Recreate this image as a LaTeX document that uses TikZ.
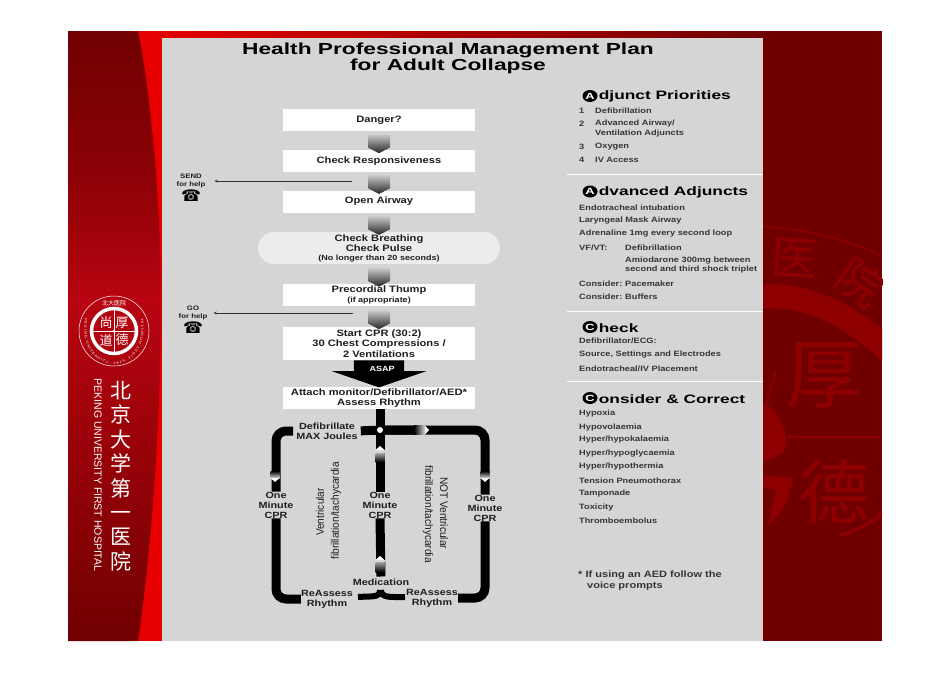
\documentclass[tikz,border=0pt]{standalone}
\usepackage{fontspec}
\usepackage{tikz}
\usetikzlibrary{arrows,positioning,calc,shapes.geometric,shapes.symbols,shapes.arrows,decorations.text}
\setmainfont[FakeStretch=1.2]{Liberation Sans}
\newfontfamily\titlefont[FakeStretch=1.42]{Liberation Sans}
\newfontfamily\plainfont[FakeStretch=0.92]{Liberation Sans}
\newfontfamily\namefont{Liberation Sans}
\newfontfamily\cjkfont{Noto Sans CJK SC}
\newfontfamily\symbfont{DejaVu Sans}
\definecolor{bandred}{HTML}{700000}
\definecolor{midred}{HTML}{B80410}
\definecolor{stripred}{HTML}{E60000}
\definecolor{markred}{HTML}{8E0000}
\definecolor{panelgray}{HTML}{D5D5D5}
\definecolor{inktext}{HTML}{1E1E1E}

\begin{document}
\begin{tikzpicture}[
    x=1pt, y=-1pt,
    box/.style={fill=white, minimum width=192pt, inner sep=0pt, align=center, text=inktext, font=\bfseries\fontsize{9.3}{10.5}\selectfont},
    pill/.style={fill=gray!15!white, rounded corners=16pt, minimum width=242pt, minimum height=32pt, inner sep=0pt, align=center, text=inktext, font=\bfseries\fontsize{9.3}{10.5}\selectfont},
    chev/.style={signal, signal to=south, signal pointer angle=125, minimum width=22pt, minimum height=14pt, inner sep=0pt, top color=gray!35, bottom color=black!85},
    asap/.style={single arrow, shape border rotate=270, text width=50pt, single arrow head extend=22pt, single arrow tip angle=142, single arrow head indent=0pt, minimum height=27pt, inner sep=0pt, fill=black},
    help/.style={align=center, inner sep=0pt, text=inktext, font=\bfseries\fontsize{6.5}{8.5}\selectfont},
    phone/.style={inner sep=0pt, font=\symbfont\fontsize{16}{16}\selectfont},
    pointer/.style={->, >=stealth, thin, black!80, shorten >=9pt},
    heavy/.style={line width=9pt, black, rounded corners=10pt},
    loopnote/.style={align=center, inner sep=0pt, text=inktext, font=\bfseries\fontsize{9}{10}\selectfont},
    vert/.style={inner sep=0pt, text=inktext, font=\plainfont\fontsize{11}{12}\selectfont},
    heading/.style={inner sep=0pt, anchor=west, yshift=-.7pt, text=black, font=\titlefont\bfseries\fontsize{12.2}{13}\selectfont},
    badge/.style={ellipse, fill=black, text=white, inner sep=0pt, minimum width=15pt, minimum height=12pt, font=\titlefont\bfseries\fontsize{9}{10}\selectfont},
    item/.style={inner sep=0pt, anchor=west, yshift=-1pt, text=inktext!90, font=\bfseries\fontsize{7.7}{9.5}\selectfont, align=left},
    rule/.style={white, line width=.8pt},
    markchar/.style={inner sep=0pt, text=markred, font=\cjkfont},
    seal/.style={inner sep=0pt, text=white, font=\cjkfont\fontsize{13}{13}\selectfont}
]
    % Slide background
    \useasboundingbox (0,0) rectangle (950,672);
    \fill[white] (0,0) rectangle (950,672);
    \fill[stripred] (68,31) rectangle (162,641);
    \shade[left color=stripred, right color=bandred] (138,31) rectangle (763,38);
    \fill[bandred] (763,31) rectangle (882,641);
    \shade[top color=bandred, bottom color=midred, middle color=midred!35!bandred]
        (68,31) -- (138,31) .. controls (150,90) and (161,200) .. (161,300) -- (68,300) -- cycle;
    \shade[top color=midred, bottom color=bandred]
        (68,300) -- (161,300) .. controls (161,430) and (150,560) .. (138,641) -- (68,641) -- cycle;

    % Watermark
    \begin{scope}
        \clip (763,31) rectangle (882,641);
        \node[markchar, rotate=-4, font=\cjkfont\fontsize{46}{46}\selectfont] (markYi) at (795,258) {医};
        \node[markchar, rotate=-35, font=\cjkfont\fontsize{46}{46}\selectfont] (markYuan) at (860,282) {院};
        \node[markchar, font=\cjkfont\fontsize{76}{76}\selectfont] (markHou) at (824,376) {厚};
        \node[markchar, font=\cjkfont\fontsize{70}{70}\selectfont] (markDe) at (834,492) {德};
        \draw[markred, line width=1.5pt] (763,226) .. controls (810,230) and (850,240) .. (882,256);
        \draw[markred, line width=24pt] (755,297) .. controls (800,292) and (845,310) .. (890,352);
        \draw[markred, line width=1.5pt] (788,437) -- (882,437);
        \draw[markred, line width=1.5pt] (776,372) -- (763,415);
        \draw[markred, line width=3pt] (840,535) .. controls (860,530) and (872,522) .. (882,512);
        \fill[markred] (763,402) .. controls (780,412) and (790,435) .. (784,452) .. controls (775,458) and (768,460) .. (763,462) -- cycle;
        \fill[markred] (763,475) -- (792,478) .. controls (792,495) and (782,515) .. (768,525) -- (776,490) -- (763,488) -- cycle;
    \end{scope}

    % Panel
    \fill[panelgray] (162,38) rectangle (763,641);

    % Seal
    \node[circle, draw=white, line width=.5pt, minimum size=70pt, inner sep=0pt] (sealOuter) at (114,331) {};
    \node[circle, draw=white, line width=3.5pt, minimum size=45pt, inner sep=0pt] (sealInner) at (114,331) {};
    \draw[white, line width=.5pt] (sealInner.north) -- (sealInner.south);
    \draw[white, line width=.5pt] (sealInner.west) -- (sealInner.east);
    \fill[white] (sealInner.center) circle (1.5pt);
    \node[seal] (sealA) at (106,323) {尚};
    \node[seal] (sealB) at (122,323) {厚};
    \node[seal] (sealC) at (106,340) {道};
    \node[seal] (sealD) at (122,340) {德};
    \node[seal, font=\cjkfont\fontsize{6}{6}\selectfont] (sealTop) at (114,303) {北大医院};
    \path[postaction={decorate, decoration={text along path, text align={fit to path}, text color=white,
        text={|\fontsize{3.4}{4}\selectfont|PEKING UNIVERSITY .1915. FIRST HOSPITAL}}}]
        (85,318) .. controls (76,380) and (152,380) .. (143,318);

    % Hospital name
    \node[white, rotate=-90, inner sep=0pt, font=\namefont\fontsize{10.5}{10.5}\selectfont] (nameEn) at (98,475) {PEKING UNIVERSITY FIRST HOSPITAL};
    \node[white, align=center, inner sep=0pt, font=\cjkfont\fontsize{21}{24.4}\selectfont] (nameCn) at (121,476) {北\\京\\大\\学\\第\\一\\医\\院};

    % Title
    \node[inner sep=0pt, align=center, text=black, font=\titlefont\bfseries\fontsize{16}{16}\selectfont] (title) at (448,58) {Health Professional Management Plan\\for Adult Collapse};

    % Flow boxes
    \node[box, minimum height=22pt] (danger) at (379,120) {Danger?};
    \node[box, minimum height=22pt] (resp) at (379,161) {Check Responsiveness};
    \node[box, minimum height=22pt] (airway) at (379,201.5) {Open Airway};
    \node[pill] (breath) at (379,248) {Check Breathing\\Check Pulse\\[-2pt]{\fontsize{7.5}{8}\selectfont (No longer than 20 seconds)}};
    \node[box, minimum height=22pt] (thump) at (379,295) {Precordial Thump\\[-1pt]{\fontsize{7.5}{8}\selectfont (if appropriate)}};
    \node[box, minimum height=33pt] (cpr) at (379,343.5) {Start CPR (30:2)\\30 Chest Compressions /\\2 Ventilations};
    \node[box, minimum height=22pt] (attach) at (379,398) {Attach monitor/Defibrillator/AED*\\Assess Rhythm};

    % Chevrons
    \node[chev] (c1) at ($(danger.south)!.5!(resp.north)$) {};
    \node[chev] (c2) at ($(resp.south)!.5!(airway.north)$) {};
    \node[chev] (c3) at ($(airway.south)!.5!(breath.north)$) {};
    \node[chev] (c4) at ($(breath.south)!.5!(thump.north)$) {};
    \node[chev] (c5) at ($(thump.south)!.5!(cpr.north)$) {};
    \node[asap, anchor=tail] (go) at (cpr.south) {};
    \node[inner sep=0pt, text=white, font=\bfseries\fontsize{7.5}{8}\selectfont] (golabel) at (382,369) {ASAP};

    % Help calls
    \node[help] (send) at (191,181) {SEND\\for help};
    \node[phone, below=1pt of send] (sendPhone) {☎};
    \node[help] (gofor) at (193,313) {GO\\for help};
    \node[phone, below=1pt of gofor] (goPhone) {☎};
    \coordinate (sendFrom) at (352,181);
    \coordinate (goFrom) at (353,313);
    \draw[pointer] (sendFrom) -- (send.east);
    \draw[pointer, shorten >=6pt] (goFrom) -- (gofor.east);

    % Loop labels
    \node[loopnote] (defib) at (327,431) {Defibrillate\\MAX Joules};
    \node[loopnote] (minL) at (276,505) {One\\Minute\\CPR};
    \node[loopnote] (minC) at (380,505) {One\\Minute\\CPR};
    \node[loopnote] (minR) at (485,508) {One\\Minute\\CPR};
    \node[loopnote] (medic) at (381,582) {Medication};
    \node[loopnote] (reL) at (327,599) {ReAssess\\Rhythm};
    \node[loopnote] (reR) at (432,598) {ReAssess\\Rhythm};
    \node[vert, rotate=90] (vfA) at (320,512) {Ventricular};
    \node[vert, rotate=90] (vfB) at (336,511) {fibrillation/tachycardia};
    \node[vert, rotate=-90] (nvA) at (444,513) {NOT Ventricular};
    \node[vert, rotate=-90] (nvB) at (428,514) {fibrillation/tachycardia};

    % Loop lines
    \coordinate (hub) at (380,430);
    \draw[heavy] (attach.south -| hub) -- (hub |- minC.north);
    \draw[heavy, shorten <=3pt] (defib.east) -- (hub) -- (425,430);
    \draw[heavy, shorten <=3pt] (defib.west) -| (minL.north);
    \draw[heavy] (hub) -| (minR.north);
    \draw[heavy] (minL.south) |- (reL.west);
    \draw[heavy] (minR.south) |- (reR.east);
    \draw[heavy, shorten >=2pt] (minC.south) -- (medic.north);
    \fill[white] (hub) circle (3pt);
    \draw[line width=6pt, black] (358,597) .. controls (372,596) and (380,598) .. (380,590);
    \draw[line width=6pt, black] (405,597) .. controls (390,597) and (381,598) .. (381,590);

    % Fades and tips on the loop
    \fill[panelgray] (375.5,450) rectangle (384.5,453);
    \fill[white] (375.5,450) -- (384.5,450) -- (380,446) -- cycle;
    \shade[top color=gray!70, bottom color=black] (375.5,453) rectangle (384.5,462);
    \fill[panelgray] (375.5,560) rectangle (384.5,562);
    \fill[white] (375.5,560) -- (384.5,560) -- (380,556) -- cycle;
    \shade[top color=gray!70, bottom color=black] (375.5,562) rectangle (384.5,572);
    \shade[top color=black, bottom color=white!85!black] (270.5,471) rectangle (279.5,478);
    \fill[white] (270.5,478) -- (279.5,478) -- (275,482) -- cycle;
    \shade[top color=black, bottom color=white!85!black] (480.5,471) rectangle (489.5,478);
    \fill[white] (480.5,478) -- (489.5,478) -- (485,482) -- cycle;
    \shade[left color=black, right color=white!85!black] (414,425.5) rectangle (425,434.5);
    \fill[white] (425,425.5) -- (425,434.5) -- (429,430) -- cycle;

    % Adjunct Priorities
    \node[badge] (badgeOne) at (590,96) {A};
    \node[heading, right=1pt of badgeOne] (headOne) {djunct Priorities};
    \foreach \y/\num in {109.5/1,123/2,145.5/3,159/4}
        \node[item, name=num\num] at (579,\y) {\num};
    \node[item] (adj1) at (595,109.5) {Defibrillation};
    \node[item] (adj2) at (595,127.5) {Advanced Airway/\\Ventilation Adjuncts};
    \node[item] (adj3) at (595,145.5) {Oxygen};
    \node[item] (adj4) at (595,159) {IV Access};
    \draw[rule] (567,174.5) -- (763,174.5);

    % Advanced Adjuncts
    \node[badge] (badgeTwo) at (590,191.5) {A};
    \node[heading, right=1pt of badgeTwo] (headTwo) {dvanced Adjuncts};
    \node[item] (adv1) at (579,206.5) {Endotracheal intubation};
    \node[item] (adv2) at (579,219.5) {Laryngeal Mask Airway};
    \node[item] (adv3) at (579,233) {Adrenaline 1mg every second loop};
    \node[item] (adv4) at (579,246.5) {VF/VT:};
    \node[item] (adv5) at (625,246.5) {Defibrillation};
    \node[item] (adv6) at (625,264) {Amiodarone 300mg between\\second and third shock triplet};
    \node[item] (adv7) at (579,283) {Consider:};
    \node[item] (adv8) at (625,283) {Pacemaker};
    \node[item] (adv9) at (579,295.5) {Consider:};
    \node[item] (adv10) at (625,295.5) {Buffers};
    \draw[rule] (567,311) -- (763,311);

    % Check
    \node[badge] (badgeThree) at (590,327) {C};
    \node[heading, right=1pt of badgeThree] (headThree) {heck};
    \node[item] (chk1) at (579,340) {Defibrillator/ECG:};
    \node[item] (chk2) at (579,354) {Source, Settings and Electrodes};
    \node[item] (chk3) at (579,368) {Endotracheal/IV Placement};
    \draw[rule] (567,381) -- (763,381);

    % Consider and Correct
    \node[badge] (badgeFour) at (590,398) {C};
    \node[heading, right=1pt of badgeFour] (headFour) {onsider \& Correct};
    \foreach \y/\txt in {413/Hypoxia,427/Hypovolaemia,439/Hyper\slash hypokalaemia,453/Hyper\slash hypoglycaemia,466/Hyper\slash hypothermia,480/Tension Pneumothorax,493/Tamponade,507/Toxicity,520/Thromboembolus}
        \node[item, name=cons\y] at (579,\y) {\txt};

    % Footnote
    \node[item, font=\bfseries\fontsize{9.2}{11}\selectfont] (aedNote) at (578,579.5) {* If using an AED follow the\\\hspace*{9pt}voice prompts};
\end{tikzpicture}
\end{document}
